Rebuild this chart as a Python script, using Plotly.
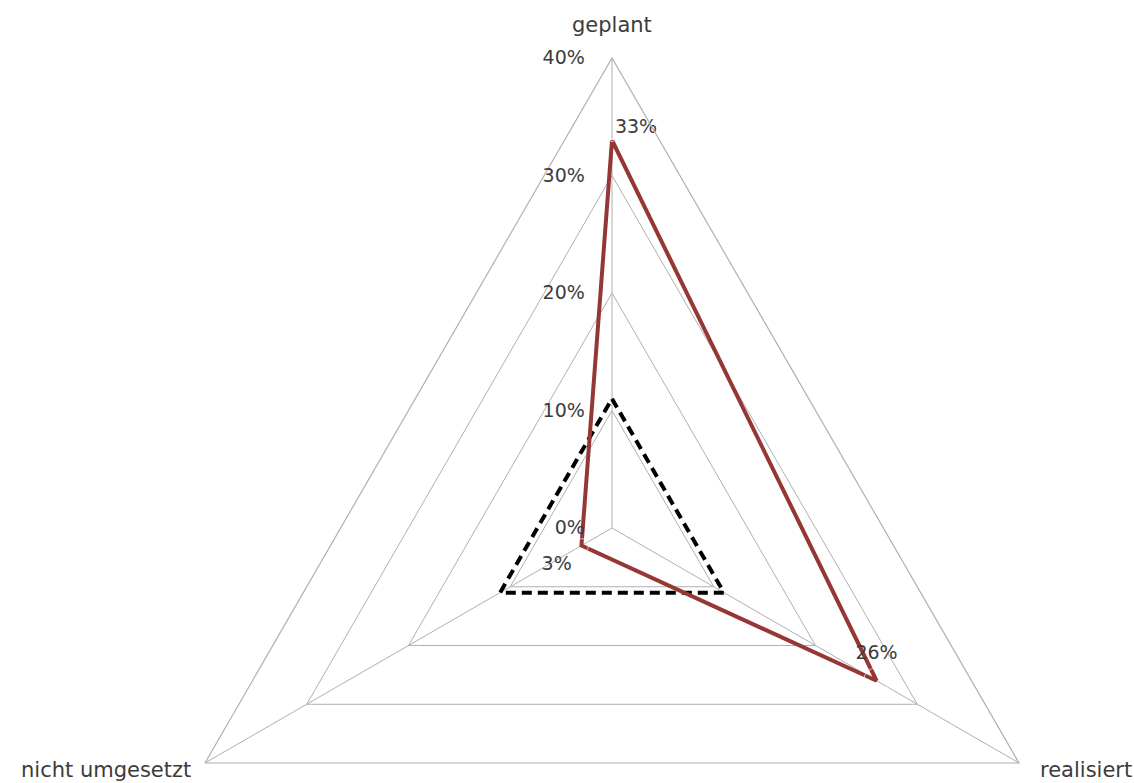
import math
import plotly.graph_objects as go

# Axes of the radar, clockwise from the top
categories = ["geplant", "realisiert", "nicht umgesetzt"]

# Series values (shares)
actual = [0.33, 0.26, 0.03]
reference_level = [0.11, 0.11, 0.11]

# Radial scale
radial_ticks = [0.0, 0.1, 0.2, 0.3, 0.4]
radial_labels = ["0%", "10%", "20%", "30%", "40%"]

# Page is 1134 x 783; the canvas is taller so the full circle of the
# polar subplot fits, the lower part (empty) simply falls below the fold.
W, H = 1134, 1000
cx, cy, R = 612, 528, 470
GRID = "#b0b0b0"
TEXT = "#3c3c3c"
FONT = "DejaVu Sans"


def closed(seq):
    return list(seq) + [seq[0]]


def px_x(x):
    return x / W


def px_y(y):
    return 1 - y / H


fig = go.Figure()

fig.add_trace(go.Scatterpolar(
    r=closed(reference_level), theta=closed(categories),
    mode="lines",
    line=dict(color="#000000", width=4, dash="10px,6px"),
    hoverinfo="skip", showlegend=False,
))

fig.add_trace(go.Scatterpolar(
    r=closed(actual), theta=closed(categories),
    mode="lines",
    line=dict(color="#953735", width=4),
    hoverinfo="skip", showlegend=False,
))

# value labels; invisible markers set the distance of each label from its point
fig.add_trace(go.Scatterpolar(
    r=actual, theta=categories,
    mode="markers+text",
    marker=dict(size=[3, 26, 14], color="rgba(0,0,0,0)"),
    text=[f"{v:.0%}" for v in actual],
    textposition=["top right", "top center", "bottom left"],
    textfont=dict(family=FONT, size=19, color=TEXT),
    hoverinfo="skip", showlegend=False,
))

# category labels next to the outer vertices
label_specs = [
    (90, "center", 0, 33),
    (-30, "left", 19, -7),
    (210, "right", -12, -7),
]
annotations = []
for name, (ang, anchor, dx, dy) in zip(categories, label_specs):
    vx = cx + R * math.cos(math.radians(ang))
    vy = cy - R * math.sin(math.radians(ang))
    annotations.append(dict(
        text=name, x=px_x(vx), y=px_y(vy), xref="paper", yref="paper",
        xanchor=anchor, yanchor="middle", xshift=dx, yshift=dy,
        showarrow=False, font=dict(family=FONT, size=21, color=TEXT),
    ))

fig.update_layout(
    width=W, height=H,
    margin=dict(l=0, r=0, t=0, b=0),
    paper_bgcolor="white",
    plot_bgcolor="white",
    font=dict(family=FONT, color=TEXT),
    annotations=annotations,
    polar=dict(
        domain=dict(
            x=[px_x(cx - R), px_x(cx + R)],
            y=[px_y(cy + R), px_y(cy - R)],
        ),
        gridshape="linear",
        bgcolor="white",
        radialaxis=dict(
            range=[0, 0.4],
            tickvals=radial_ticks,
            ticktext=radial_labels,
            angle=90,
            tickangle=90,
            side="counterclockwise",
            ticks="outside",
            ticklen=20,
            tickcolor="rgba(0,0,0,0)",
            showline=False,
            gridcolor=GRID,
            gridwidth=1.2,
            tickfont=dict(family=FONT, size=19, color=TEXT),
        ),
        angularaxis=dict(
            direction="clockwise",
            rotation=90,
            showline=True,
            linecolor=GRID,
            linewidth=1.2,
            gridcolor=GRID,
            gridwidth=1.2,
            showticklabels=False,
            ticks="",
        ),
    ),
)

fig.write_html(
    "out.html",
    post_script=(
        "document.documentElement.style.overflow='hidden';"
        "document.body.style.overflow='hidden';"
    ),
)
